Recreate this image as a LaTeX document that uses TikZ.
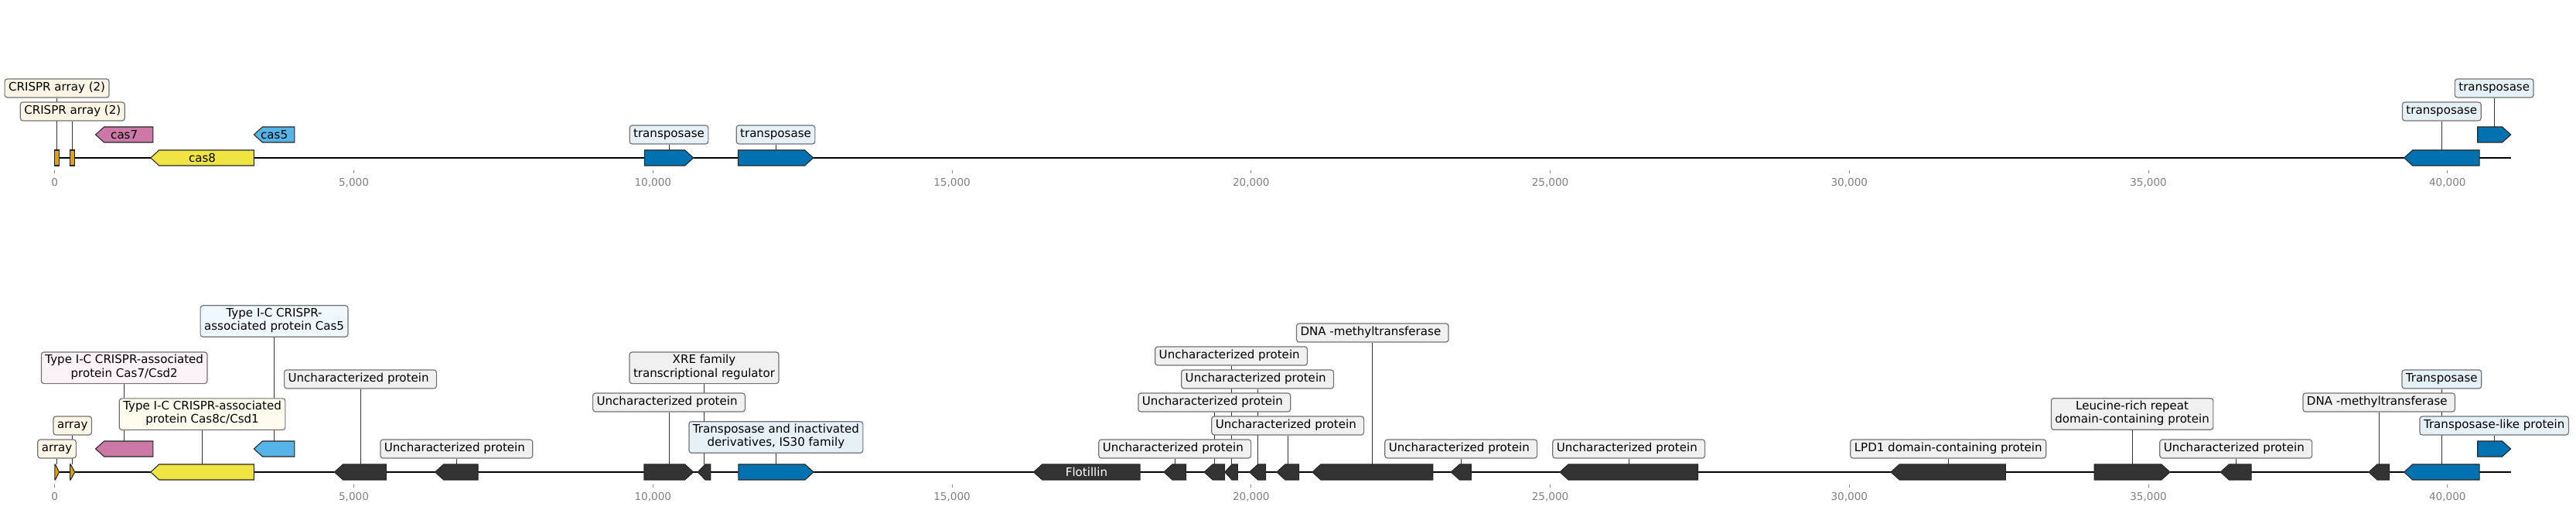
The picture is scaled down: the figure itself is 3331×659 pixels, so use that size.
\documentclass[tikz,border=0pt]{standalone}
\usepackage{fontspec}
\setmainfont{DejaVu Sans}
\usetikzlibrary{backgrounds}

\definecolor{laranja}{HTML}{E69F00}
\definecolor{rosa}{HTML}{CC79A7}
\definecolor{amarelo}{HTML}{F0E442}
\definecolor{celeste}{HTML}{56B4E9}
\definecolor{azul}{HTML}{0072B2}
\definecolor{escuro}{HTML}{333333}
\definecolor{cinza}{HTML}{F0F0F0}

\begin{document}
\begin{tikzpicture}[x=0.75pt, y=-0.75pt,
    gene/.style={draw=black!85, line width=0.8pt},
    rotulo/.style={draw=black!55, line width=0.9pt, rounded corners=2.5pt, align=center,
      inner xsep=3.75pt, inner ysep=2.5pt, font=\fontsize{11.3}{13}\selectfont,
      execute at begin node=\strut, execute at end node=\strut},
    nome/.style={inner sep=0pt, font=\fontsize{11.3}{13}\selectfont},
    haste/.style={draw=escuro, line width=0.65pt},
    eixo/.style={line width=1.5pt},
    marca/.style={draw=black!45, line width=0.6pt},
    numero/.style={text=black!50, inner sep=0pt, font=\fontsize{10.2}{12}\selectfont}]

    \useasboundingbox (0,0) rectangle (3331,659);

    % Desenha os eixos
    \draw[eixo] (70.8,204) -- (3246.7,204);
    \draw[eixo] (70.8,610) -- (3246.7,610);

    \draw[marca] (70.8,220) -- (70.8,224);
    \draw[marca] (457.55,220) -- (457.55,224);
    \draw[marca] (844.3,220) -- (844.3,224);
    \draw[marca] (1231.05,220) -- (1231.05,224);
    \draw[marca] (1617.8,220) -- (1617.8,224);
    \draw[marca] (2004.55,220) -- (2004.55,224);
    \draw[marca] (2391.3,220) -- (2391.3,224);
    \draw[marca] (2778.05,220) -- (2778.05,224);
    \draw[marca] (3164.8,220) -- (3164.8,224);
    \node[numero] (xa0) at (70.8,236) {0};
    \node[numero] (xa1) at (457.55,236) {5,000};
    \node[numero] (xa2) at (844.3,236) {10,000};
    \node[numero] (xa3) at (1231.05,236) {15,000};
    \node[numero] (xa4) at (1617.8,236) {20,000};
    \node[numero] (xa5) at (2004.55,236) {25,000};
    \node[numero] (xa6) at (2391.3,236) {30,000};
    \node[numero] (xa7) at (2778.05,236) {35,000};
    \node[numero] (xa8) at (3164.8,236) {40,000};

    \draw[marca] (70.8,626) -- (70.8,630);
    \draw[marca] (457.55,626) -- (457.55,630);
    \draw[marca] (844.3,626) -- (844.3,630);
    \draw[marca] (1231.05,626) -- (1231.05,630);
    \draw[marca] (1617.8,626) -- (1617.8,630);
    \draw[marca] (2004.55,626) -- (2004.55,630);
    \draw[marca] (2391.3,626) -- (2391.3,630);
    \draw[marca] (2778.05,626) -- (2778.05,630);
    \draw[marca] (3164.8,626) -- (3164.8,630);
    \node[numero] (xb0) at (70.8,642) {0};
    \node[numero] (xb1) at (457.55,642) {5,000};
    \node[numero] (xb2) at (844.3,642) {10,000};
    \node[numero] (xb3) at (1231.05,642) {15,000};
    \node[numero] (xb4) at (1617.8,642) {20,000};
    \node[numero] (xb5) at (2004.55,642) {25,000};
    \node[numero] (xb6) at (2391.3,642) {30,000};
    \node[numero] (xb7) at (2778.05,642) {35,000};
    \node[numero] (xb8) at (3164.8,642) {40,000};

    % Genes de cima
    \filldraw[gene, fill=laranja] (70.8,194) rectangle (76.5,214);
    \filldraw[gene, fill=laranja] (90.7,194) rectangle (96.8,214);
    \filldraw[gene, fill=rosa] (123.6,174) -- (134.6,164) -- (197.9,164) -- (197.9,184) -- (134.6,184) -- cycle;
    \filldraw[gene, fill=amarelo] (194.8,204) -- (205.8,194) -- (328.4,194) -- (328.4,214) -- (205.8,214) -- cycle;
    \filldraw[gene, fill=celeste] (328.4,174) -- (339.4,164) -- (380.8,164) -- (380.8,184) -- (339.4,184) -- cycle;
    \filldraw[gene, fill=azul] (833.3,194) -- (885.7,194) -- (896.7,204) -- (885.7,214) -- (833.3,214) -- cycle;
    \filldraw[gene, fill=azul] (954.3,194) -- (1040.7,194) -- (1051.7,204) -- (1040.7,214) -- (954.3,214) -- cycle;
    \filldraw[gene, fill=azul] (3108.7,204) -- (3119.7,194) -- (3206,194) -- (3206,214) -- (3119.7,214) -- cycle;
    \filldraw[gene, fill=azul] (3203.7,164) -- (3235.7,164) -- (3246.7,174) -- (3235.7,184) -- (3203.7,184) -- cycle;
    \node[nome] (n7) at (160.7,174) {cas7};
    \node[nome] (n8) at (261.6,204) {cas8};
    \node[nome] (n5) at (354.6,174) {cas5};

    % Genes de baixo
    \filldraw[gene, fill=laranja] (70.8,600) -- (71.4,600) -- (76.5,610) -- (71.4,620) -- (70.8,620) -- cycle;
    \filldraw[gene, fill=laranja] (90.7,600) -- (91.3,600) -- (96.8,610) -- (91.3,620) -- (90.7,620) -- cycle;
    \filldraw[gene, fill=rosa] (123.6,580) -- (134.6,570) -- (197.9,570) -- (197.9,590) -- (134.6,590) -- cycle;
    \filldraw[gene, fill=amarelo] (194.8,610) -- (205.8,600) -- (328.4,600) -- (328.4,620) -- (205.8,620) -- cycle;
    \filldraw[gene, fill=celeste] (328.4,580) -- (339.4,570) -- (380.8,570) -- (380.8,590) -- (339.4,590) -- cycle;
    \filldraw[gene, fill=escuro] (432.5,610) -- (443.5,600) -- (499.4,600) -- (499.4,620) -- (443.5,620) -- cycle;
    \filldraw[gene, fill=escuro] (562.6,610) -- (573.6,600) -- (618,600) -- (618,620) -- (573.6,620) -- cycle;
    \filldraw[gene, fill=escuro] (833,600) -- (885.6,600) -- (896.6,610) -- (885.6,620) -- (833,620) -- cycle;
    \filldraw[gene, fill=escuro] (902.3,610) -- (911.9,600) -- (918.8,600) -- (918.8,620) -- (911.9,620) -- cycle;
    \filldraw[gene, fill=azul] (954.8,600) -- (1041,600) -- (1052,610) -- (1041,620) -- (954.8,620) -- cycle;
    \filldraw[gene, fill=escuro] (1336.6,610) -- (1347.6,600) -- (1474.1,600) -- (1474.1,620) -- (1347.6,620) -- cycle;
    \filldraw[gene, fill=escuro] (1504.9,610) -- (1515.9,600) -- (1533.5,600) -- (1533.5,620) -- (1515.9,620) -- cycle;
    \filldraw[gene, fill=escuro] (1557.1,610) -- (1568.1,600) -- (1583.5,600) -- (1583.5,620) -- (1568.1,620) -- cycle;
    \filldraw[gene, fill=escuro] (1583.9,610) -- (1592.9,600) -- (1600.4,600) -- (1600.4,620) -- (1592.9,620) -- cycle;
    \filldraw[gene, fill=escuro] (1615.6,610) -- (1626.6,600) -- (1636.6,600) -- (1636.6,620) -- (1626.6,620) -- cycle;
    \filldraw[gene, fill=escuro] (1650.9,610) -- (1661.9,600) -- (1679.5,600) -- (1679.5,620) -- (1661.9,620) -- cycle;
    \filldraw[gene, fill=escuro] (1696.9,610) -- (1707.9,600) -- (1852.7,600) -- (1852.7,620) -- (1707.9,620) -- cycle;
    \filldraw[gene, fill=escuro] (1876.3,610) -- (1887.3,600) -- (1902.2,600) -- (1902.2,620) -- (1887.3,620) -- cycle;
    \filldraw[gene, fill=escuro] (2017,610) -- (2028,600) -- (2195.5,600) -- (2195.5,620) -- (2028,620) -- cycle;
    \filldraw[gene, fill=escuro] (2445.1,610) -- (2456.1,600) -- (2593.3,600) -- (2593.3,620) -- (2456.1,620) -- cycle;
    \filldraw[gene, fill=escuro] (2708.2,600) -- (2795,600) -- (2806,610) -- (2795,620) -- (2708.2,620) -- cycle;
    \filldraw[gene, fill=escuro] (2871.3,610) -- (2882.3,600) -- (2911,600) -- (2911,620) -- (2882.3,620) -- cycle;
    \filldraw[gene, fill=escuro] (3062.9,610) -- (3073.9,600) -- (3089.5,600) -- (3089.5,620) -- (3073.9,620) -- cycle;
    \filldraw[gene, fill=azul] (3108.6,610) -- (3119.6,600) -- (3206,600) -- (3206,620) -- (3119.6,620) -- cycle;
    \filldraw[gene, fill=azul] (3203.7,570) -- (3235.6,570) -- (3246.6,580) -- (3235.6,590) -- (3203.7,590) -- cycle;
    \node[nome, text=white] (nf) at (1405,610) {Flotillin};

    % Pontos de ligacao nos genes
    \coordinate (ga1) at (73.6,194);
    \coordinate (ga2) at (93.8,194);
    \coordinate (gt1) at (865,194);
    \coordinate (gt2) at (1003,194);
    \coordinate (gt3) at (3157.3,194);
    \coordinate (gt4) at (3225.2,164);
    \coordinate (hb1) at (73.6,600);
    \coordinate (hb2) at (93.8,600);
    \coordinate (hc7) at (160.7,570);
    \coordinate (hc8) at (261.6,600);
    \coordinate (hc5) at (354.6,570);
    \coordinate (hu1) at (466,600);
    \coordinate (hu2) at (590.3,600);
    \coordinate (hu3) at (865,600);
    \coordinate (hx) at (910.5,600);
    \coordinate (his) at (1003.4,600);
    \coordinate (hu4) at (1519.2,600);
    \coordinate (hu5) at (1570.3,600);
    \coordinate (hu6) at (1592.1,600);
    \coordinate (hu7) at (1626.1,600);
    \coordinate (hu8) at (1665.2,600);
    \coordinate (hd1) at (1774.8,600);
    \coordinate (hu9) at (1889.2,600);
    \coordinate (hu10) at (2106.2,600);
    \coordinate (hl) at (2519.2,600);
    \coordinate (hr) at (2757.1,600);
    \coordinate (hu11) at (2891.2,600);
    \coordinate (hd2) at (3076.2,600);
    \coordinate (htr) at (3157.3,600);
    \coordinate (htl) at (3225.2,570);

    % Rotulos de cima
    \node[rotulo, fill=laranja!10] (ta1) at (73.6,114) {CRISPR array (2)};
    \node[rotulo, fill=laranja!10] (ta2) at (93.8,144) {CRISPR array (2)};
    \node[rotulo, fill=azul!10] (tt1) at (865,174) {transposase};
    \node[rotulo, fill=azul!10] (tt2) at (1003,174) {transposase};
    \node[rotulo, fill=azul!10] (tt3) at (3157.3,144) {transposase};
    \node[rotulo, fill=azul!10] (tt4) at (3225.2,114) {transposase};

    % Rotulos de baixo
    \node[rotulo, fill=laranja!10] (ba1) at (73.6,580) {array};
    \node[rotulo, fill=laranja!10] (ba2) at (93.8,550) {array};
    \node[rotulo, fill=rosa!10] (bc7) at (160.7,475.3) {Type I-C CRISPR-associated\\protein Cas7/Csd2};
    \node[rotulo, fill=amarelo!10] (bc8) at (261.6,535.2) {Type I-C CRISPR-associated\\protein Cas8c/Csd1};
    \node[rotulo, fill=celeste!10] (bc5) at (354.6,415) {Type I-C CRISPR-\\associated protein Cas5};
    \node[rotulo, fill=cinza] (bu1) at (466,490) {Uncharacterized protein~};
    \node[rotulo, fill=cinza] (bu2) at (590.3,580) {Uncharacterized protein~};
    \node[rotulo, fill=cinza] (bu3) at (865,520) {Uncharacterized protein~};
    \node[rotulo, fill=cinza] (bx) at (910.5,475.3) {XRE family\\transcriptional regulator};
    \node[rotulo, fill=azul!10] (bis) at (1003.4,565) {Transposase and inactivated\\derivatives, IS30 family};
    \node[rotulo, fill=cinza] (bu4) at (1519.2,580) {Uncharacterized protein~};
    \node[rotulo, fill=cinza] (bu5) at (1570.3,520) {Uncharacterized protein~};
    \node[rotulo, fill=cinza] (bu6) at (1592.1,460) {Uncharacterized protein~};
    \node[rotulo, fill=cinza] (bu7) at (1626.1,490) {Uncharacterized protein~};
    \node[rotulo, fill=cinza] (bu8) at (1665.2,550) {Uncharacterized protein~};
    \node[rotulo, fill=cinza] (bd1) at (1774.8,430) {DNA -methyltransferase~};
    \node[rotulo, fill=cinza] (bu9) at (1889.2,580) {Uncharacterized protein~};
    \node[rotulo, fill=cinza] (bu10) at (2106.2,580) {Uncharacterized protein~};
    \node[rotulo, fill=cinza] (bl) at (2519.2,580) {LPD1 domain-containing protein};
    \node[rotulo, fill=cinza] (br) at (2757.1,535) {Leucine-rich repeat\\domain-containing protein};
    \node[rotulo, fill=cinza] (bu11) at (2891.2,580) {Uncharacterized protein~};
    \node[rotulo, fill=cinza] (bd2) at (3076.2,520) {DNA -methyltransferase~};
    \node[rotulo, fill=azul!10] (btr) at (3157.3,490) {Transposase};
    \node[rotulo, fill=azul!10] (btl) at (3225.2,550) {Transposase-like protein};

    % Hastes por baixo das caixas
    \begin{pgfonlayer}{background}
        \draw[haste] (ta1.south) -- (ga1);
        \draw[haste] (ta2.south) -- (ga2);
        \draw[haste] (tt1.south) -- (gt1);
        \draw[haste] (tt2.south) -- (gt2);
        \draw[haste] (tt3.south) -- (gt3);
        \draw[haste] (tt4.south) -- (gt4);
        \draw[haste] (ba1.south) -- (hb1);
        \draw[haste] (ba2.south) -- (hb2);
        \draw[haste] (bc7.south) -- (hc7);
        \draw[haste] (bc8.south) -- (hc8);
        \draw[haste] (bc5.south) -- (hc5);
        \draw[haste] (bu1.south) -- (hu1);
        \draw[haste] (bu2.south) -- (hu2);
        \draw[haste] (bu3.south) -- (hu3);
        \draw[haste] (bx.south) -- (hx);
        \draw[haste] (bis.south) -- (his);
        \draw[haste] (bu4.south) -- (hu4);
        \draw[haste] (bu5.south) -- (hu5);
        \draw[haste] (bu6.south) -- (hu6);
        \draw[haste] (bu7.south) -- (hu7);
        \draw[haste] (bu8.south) -- (hu8);
        \draw[haste] (bd1.south) -- (hd1);
        \draw[haste] (bu9.south) -- (hu9);
        \draw[haste] (bu10.south) -- (hu10);
        \draw[haste] (bl.south) -- (hl);
        \draw[haste] (br.south) -- (hr);
        \draw[haste] (bu11.south) -- (hu11);
        \draw[haste] (bd2.south) -- (hd2);
        \draw[haste] (btr.south) -- (htr);
        \draw[haste] (btl.south) -- (htl);
    \end{pgfonlayer}
\end{tikzpicture}
\end{document}
